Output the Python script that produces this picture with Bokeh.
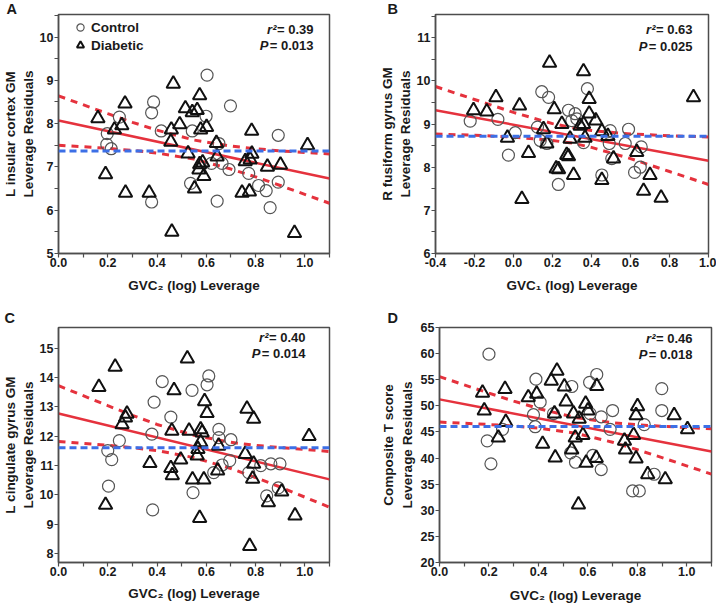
import math
from bokeh.plotting import figure
from bokeh.layouts import column, row
from bokeh.models import (Range1d, FixedTicker, PrintfTickFormatter, Label, Span,
                          Legend, LegendItem, Title)
from bokeh.embed import file_html
from bokeh.resources import INLINE

FONT = "Liberation Sans"
RED = "#e5323d"
BLUE = "#3c6fe6"
AXC = "#4d4d4d"
TXT = "#1a1a1a"

# ---------------- data ----------------
PANEL_LETTERS = ["A", "B", "C", "D"]
R2_TEXT = ["0.39", "0.63", "0.40", "0.46"]
P_TEXT = ["0.013", "0.025", "0.014", "0.018"]
X_LABELS = ["GVC\u2082 (log) Leverage", "GVC\u2081 (log) Leverage",
            "GVC\u2082 (log) Leverage", "GVC\u2082 (log) Leverage"]
Y_LABELS = [["L insular cortex GM", "Leverage Residuals"],
            ["R fusiform gyrus GM", "Leverage Residuals"],
            ["L cingulate gyrus GM", "Leverage Residuals"],
            ["Composite T score", "Leverage Residuals"]]
LEGEND_LABELS = ["Control", "Diabetic"]

# Panel A
A_ctrl_x = [0.603, 0.386, 0.378, 0.247, 0.698, 0.599, 0.417, 0.543, 0.198, 0.196, 0.214, 0.892,
            0.651, 0.621, 0.664, 0.692, 0.772, 0.536, 0.892, 0.812, 0.843, 0.378, 0.644, 0.859]
A_ctrl_y = [9.12, 8.50, 8.25, 8.15, 8.41, 8.17, 7.83, 7.83, 7.77, 7.52, 7.42, 7.73,
            7.54, 7.08, 7.08, 6.94, 6.85, 6.62, 6.65, 6.57, 6.45, 6.19, 6.21, 6.06]
A_diab_x = [0.466, 0.573, 0.270, 0.160, 0.515, 0.543, 0.563, 0.227, 0.257, 0.492, 0.601, 0.577,
            0.458, 0.784, 0.456, 0.641, 1.011, 0.526, 0.644, 0.785, 0.758, 0.778, 0.585, 0.901,
            0.848, 0.573, 0.570, 0.590, 0.191, 0.272, 0.368, 0.552, 0.745, 0.775, 0.460, 0.958]
A_diab_y = [8.92, 8.65, 8.46, 8.12, 8.35, 8.26, 8.31, 7.86, 7.96, 7.98, 7.92, 7.86,
            7.86, 7.83, 7.58, 7.55, 7.50, 7.31, 7.24, 7.30, 7.13, 7.17, 7.10, 7.05,
            7.00, 7.06, 6.94, 6.79, 6.83, 6.40, 6.40, 6.50, 6.40, 6.43, 5.50, 5.47]
A_fit_x = [0.0, 1.1]
A_fit_y = [8.07, 6.73]
A_mean = 7.37
A_band_x = [0.0, 0.2, 0.3, 0.4, 0.55, 0.7, 0.8, 0.9, 1.1]
A_upper = [8.64, 8.23, 8.03, 7.85, 7.62, 7.48, 7.42, 7.37, 7.30]
A_lower = [7.50, 7.43, 7.38, 7.32, 7.18, 6.95, 6.77, 6.57, 6.16]

# Panel B
B_ctrl_x = [-0.222, -0.080, 0.009, -0.026, 0.123, 0.145, 0.180, 0.137, 0.171, 0.230, 0.282, 0.316,
            0.325, 0.299, 0.379, 0.359, 0.496, 0.590, 0.491, 0.573, 0.655, 0.504, 0.650, 0.621, 0.453]
B_ctrl_y = [9.07, 9.11, 8.80, 8.28, 8.93, 9.75, 9.62, 8.62, 8.55, 7.60, 9.32, 9.24,
            9.12, 9.08, 9.82, 8.57, 8.85, 8.88, 8.55, 8.55, 8.47, 8.20, 8.00, 7.88, 7.82]
B_diab_x = [-0.205, -0.137, -0.090, 0.031, 0.185, 0.209, -0.031, 0.077, 0.154, 0.171, 0.248, 0.219,
            0.231, 0.273, 0.282, 0.043, 0.290, 0.359, 0.388, 0.923, 0.388, 0.422, 0.359, 0.342,
            0.453, 0.484, 0.367, 0.513, 0.632, 0.308, 0.453, 0.700, 0.667, 0.757]
B_diab_y = [9.32, 9.29, 9.62, 9.43, 10.42, 9.34, 8.68, 8.33, 8.88, 8.55, 9.00, 7.97,
            7.95, 8.28, 8.25, 7.26, 8.66, 10.22, 9.58, 9.62, 9.24, 9.08, 9.00, 8.96,
            8.83, 8.72, 8.68, 8.20, 8.35, 7.82, 7.70, 7.82, 7.45, 7.29]
B_fit_x = [-0.4, 1.0]
B_fit_y = [9.32, 8.15]
B_mean = 8.72
B_band_x = [-0.4, -0.2, 0.0, 0.2, 0.3, 0.4, 0.6, 0.8, 1.0]
B_upper = [9.87, 9.57, 9.27, 9.01, 8.92, 8.85, 8.77, 8.73, 8.70]
B_lower = [8.77, 8.74, 8.70, 8.62, 8.56, 8.46, 8.20, 7.90, 7.60]

# Panel C
C_ctrl_x = [0.610, 0.603, 0.421, 0.542, 0.388, 0.456, 0.379, 0.651, 0.651, 0.700, 0.247, 0.200,
            0.216, 0.695, 0.664, 0.630, 0.772, 0.821, 0.862, 0.899, 0.203, 0.546, 0.892, 0.845, 0.382]
C_ctrl_y = [14.05, 13.75, 13.86, 13.56, 13.16, 12.65, 12.07, 12.23, 11.95, 11.88, 11.85, 11.51,
            11.20, 11.17, 11.02, 10.76, 10.76, 11.00, 11.06, 11.06, 10.30, 10.08, 10.24, 9.97, 9.49]
C_diab_x = [0.523, 0.230, 0.164, 0.469, 0.593, 0.603, 0.278, 0.272, 0.258, 0.765, 0.792, 0.460,
            0.530, 0.577, 0.583, 0.577, 0.650, 1.017, 0.566, 0.563, 0.758, 0.792, 0.371, 0.496,
            0.456, 0.462, 0.544, 0.590, 0.646, 0.788, 0.906, 0.852, 0.191, 0.573, 0.960, 0.776]
C_diab_y = [14.64, 14.36, 13.67, 13.56, 13.19, 12.79, 12.76, 12.63, 12.40, 12.93, 12.59, 12.18,
            12.18, 12.23, 12.12, 11.79, 11.67, 12.00, 11.56, 11.34, 11.39, 11.06, 11.08, 11.20,
            10.91, 10.67, 10.52, 10.52, 10.83, 10.55, 10.11, 9.75, 9.66, 9.21, 9.30, 8.26]
C_fit_x = [0.0, 1.1]
C_fit_y = [12.77, 10.53]
C_mean = 11.61
C_band_x = [0.0, 0.2, 0.3, 0.4, 0.55, 0.7, 0.8, 0.9, 1.1]
C_upper = [13.72, 13.04, 12.71, 12.40, 12.03, 11.79, 11.69, 11.61, 11.48]
C_lower = [11.82, 11.69, 11.61, 11.51, 11.27, 10.90, 10.59, 10.27, 9.58]

# Panel D
D_ctrl_x = [0.200, 0.390, 0.407, 0.380, 0.387, 0.193, 0.208, 0.255, 0.535, 0.461, 0.530, 0.550,
            0.636, 0.607, 0.700, 0.654, 0.609, 0.690, 0.899, 0.899, 0.828, 0.620, 0.654, 0.868,
            0.781, 0.808]
D_ctrl_y = [59.9, 55.1, 50.7, 48.3, 46.0, 43.3, 38.9, 45.5, 53.7, 48.5, 41.0, 39.2,
            56.0, 54.5, 49.1, 47.9, 48.5, 45.5, 53.3, 49.1, 46.4, 40.5, 37.8, 36.9,
            33.7, 33.7]
D_diab_x = [0.174, 0.181, 0.265, 0.238, 0.268, 0.359, 0.393, 0.417, 0.468, 0.452, 0.475, 0.465,
            0.505, 0.512, 0.542, 0.549, 0.535, 0.562, 0.636, 0.591, 0.600, 0.801, 0.795, 0.949,
            1.003, 0.785, 0.748, 0.752, 0.795, 0.842, 0.913, 0.580, 0.593, 0.634, 0.565]
D_diab_y = [52.5, 49.1, 53.2, 43.9, 46.9, 51.6, 52.3, 42.7, 40.1, 54.8, 56.7, 48.5,
            53.7, 50.8, 48.5, 43.9, 41.6, 31.1, 53.8, 50.4, 49.1, 49.9, 48.2, 48.2,
            45.5, 44.4, 43.3, 41.6, 39.9, 36.9, 35.9, 44.4, 39.1, 40.0, 47.5]
D_fit_x = [0.0, 1.1]
D_fit_y = [51.24, 41.27]
D_mean = 46.03
D_band_x = [0.0, 0.2, 0.3, 0.4, 0.55, 0.7, 0.8, 0.9, 1.1]
D_upper = [55.59, 52.43, 50.91, 49.49, 47.76, 46.77, 46.38, 46.09, 45.62]
D_lower = [46.89, 46.43, 46.13, 45.75, 44.76, 43.03, 41.60, 40.09, 36.92]

# axis ranges and ticks
X02 = [0.0, 0.2, 0.4, 0.6, 0.8, 1.0]
X02_MINOR = [0.1, 0.3, 0.5, 0.7, 0.9, 1.1]
XB = [-0.4, -0.2, 0.0, 0.2, 0.4, 0.6, 0.8, 1.0]
YA = [5, 6, 7, 8, 9, 10]
YA_MINOR = [5.5, 6.5, 7.5, 8.5, 9.5, 10.5]
YB = [6, 7, 8, 9, 10, 11]
YB_MINOR = [6.5, 7.5, 8.5, 9.5, 10.5, 11.5]
YC = [8, 9, 10, 11, 12, 13, 14, 15]
YD = [20, 25, 30, 35, 40, 45, 50, 55, 60, 65]


def make_panel(w, h, bl, br, bt, bb, xr, yr, xt, xmin, yt, ymin, xlabel, xstand):
    p = figure(width=w, height=h, x_range=Range1d(*xr), y_range=Range1d(*yr),
               output_backend="svg", toolbar_location=None,
               min_border_left=bl, min_border_right=br, min_border_top=bt, min_border_bottom=bb,
               outline_line_color=AXC, outline_line_width=1.5,
               background_fill_color="white", border_fill_color="white")
    p.grid.visible = False
    p.xaxis.ticker = FixedTicker(ticks=xt, minor_ticks=xmin)
    p.yaxis.ticker = FixedTicker(ticks=yt, minor_ticks=ymin)
    p.xaxis.formatter = PrintfTickFormatter(format="%.1f")
    p.yaxis.formatter = PrintfTickFormatter(format="%d")
    for ax in (p.xaxis, p.yaxis):
        ax.axis_line_color = AXC
        ax.axis_line_width = 1.5
        ax.major_tick_line_color = AXC
        ax.minor_tick_line_color = AXC
        ax.major_tick_line_width = 1.2
        ax.minor_tick_line_width = 1.2
        ax.major_tick_in = 0
        ax.major_tick_out = 4
        ax.minor_tick_in = 0
        ax.minor_tick_out = 4
        ax.major_label_text_font = FONT
        ax.major_label_text_font_style = "bold"
        ax.major_label_text_font_size = "12.5px"
        ax.major_label_text_color = TXT
    p.xaxis.major_label_standoff = 0
    p.yaxis.major_label_standoff = 1
    p.xaxis.axis_label = xlabel
    p.xaxis.axis_label_text_font = FONT
    p.xaxis.axis_label_text_font_style = "bold"
    p.xaxis.axis_label_text_font_size = "13.5px"
    p.xaxis.axis_label_text_color = TXT
    p.xaxis.axis_label_standoff = xstand
    fw = w - bl - br
    fh = h - bt - bb
    return p, fw, fh


def add_text(p, x, y, text, size="13.5px", style="bold", align="left", baseline="middle"):
    p.add_layout(Label(x=x, y=y, x_units="screen", y_units="screen", text=text,
                       text_font=FONT, text_font_style=style, text_font_size=size,
                       text_color=TXT, text_align=align, text_baseline=baseline))


def decorate(p, fw, fh, idx, letter_dx, letter_standoff, ylab_standoff,
             stat_right, stat_top1, stat_top2):
    # panel letter above the frame
    p.add_layout(Title(text=PANEL_LETTERS[idx], align="left", offset=letter_dx,
                       standoff=letter_standoff, text_font=FONT, text_font_style="bold",
                       text_font_size="14.5px", text_color=TXT), "above")
    # two-line y label, inner line first
    p.add_layout(Title(text=Y_LABELS[idx][1], align="center", standoff=ylab_standoff,
                       text_font=FONT, text_font_style="bold", text_font_size="13.5px",
                       text_color=TXT), "left")
    p.add_layout(Title(text=Y_LABELS[idx][0], align="center", standoff=0,
                       text_font=FONT, text_font_style="bold", text_font_size="13.5px",
                       text_color=TXT), "left")
    R = fw - stat_right
    w1 = 36.5
    w2 = 43.7
    add_text(p, R, fh - stat_top1, "= " + R2_TEXT[idx], size="13px", align="right")
    add_text(p, R - w1 - 0.5, fh - stat_top1, "r\u00b2", size="13px", style="bold italic",
             align="right")
    add_text(p, R, fh - stat_top2, "= " + P_TEXT[idx], size="13px", align="right")
    add_text(p, R - w2 - 1.5, fh - stat_top2, "P", size="13px", style="bold italic",
             align="right")


def draw_data(p, cx, cy, dx, dy, fit_x, fit_y, mean, band_x, upper, lower):
    p.add_layout(Span(location=mean, dimension="width", line_color=BLUE, line_width=3,
                      line_dash="7 4"))
    p.line(band_x, upper, line_color=RED, line_width=3, line_dash="7 6")
    p.line(band_x, lower, line_color=RED, line_width=3, line_dash="7 6")
    p.line(fit_x, fit_y, line_color=RED, line_width=2.5)
    rc = p.scatter(cx, cy, marker="circle", size=12, fill_color=None, line_color="#555555",
                   line_width=1.2)
    rt = p.scatter(dx, dy, marker="triangle", size=13.5, fill_color=None, line_color="#111111",
                   line_width=2.0)
    return rc, rt


# Panel A  (page origin at 0,0)
pA, fwA, fhA = make_panel(360, 300, 57, 31, 14, 47, (0.0, 1.1), (5.0, 10.52),
                          X02, X02_MINOR, YA, YA_MINOR, X_LABELS[0], 8)
rcA, rtA = draw_data(pA, A_ctrl_x, A_ctrl_y, A_diab_x, A_diab_y, A_fit_x, A_fit_y, A_mean,
                     A_band_x, A_upper, A_lower)
decorate(pA, fwA, fhA, 0, -52, -4, 2, 17, 15, 31)
leg = Legend(items=[LegendItem(label=LEGEND_LABELS[0], renderers=[rcA]),
                    LegendItem(label=LEGEND_LABELS[1], renderers=[rtA])],
             location=(13, fhA - 40), padding=0, margin=0, spacing=0,
             glyph_width=18, glyph_height=18, label_height=18, label_standoff=2,
             border_line_color=None, background_fill_alpha=0,
             label_text_font=FONT, label_text_font_style="bold",
             label_text_font_size="13.5px", label_text_color=TXT)
pA.add_layout(leg)

# Panel B
pB, fwB, fhB = make_panel(356, 300, 75, 8, 14, 47, (-0.4, 1.0), (6.0, 11.54),
                          XB, [], YB, YB_MINOR, X_LABELS[1], 8)
draw_data(pB, B_ctrl_x, B_ctrl_y, B_diab_x, B_diab_y, B_fit_x, B_fit_y, B_mean,
          B_band_x, B_upper, B_lower)
decorate(pB, fwB, fhB, 1, -48, -4, 2, 16, 15, 32)

# Panel C
pC, fwC, fhC = make_panel(360, 308, 57, 31, 27, 45, (0.0, 1.1), (7.7, 15.7),
                          X02, X02_MINOR, YC, [], X_LABELS[2], 7)
draw_data(pC, C_ctrl_x, C_ctrl_y, C_diab_x, C_diab_y, C_fit_x, C_fit_y, C_mean,
          C_band_x, C_upper, C_lower)
decorate(pC, fwC, fhC, 2, -54, 3, 2, 25, 11, 27)

# Panel D
pD, fwD, fhD = make_panel(356, 308, 79, 5, 25, 46, (0.0, 1.1), (20.0, 65.0),
                          X02, X02_MINOR, YD, [], X_LABELS[3], 9)
draw_data(pD, D_ctrl_x, D_ctrl_y, D_diab_x, D_diab_y, D_fit_x, D_fit_y, D_mean,
          D_band_x, D_upper, D_lower)
decorate(pD, fwD, fhD, 3, -52, 3, 5, 19, 13, 29)

layout = column(row(pA, pB), row(pC, pD))
open("out.html", "w").write(file_html(layout, INLINE))
